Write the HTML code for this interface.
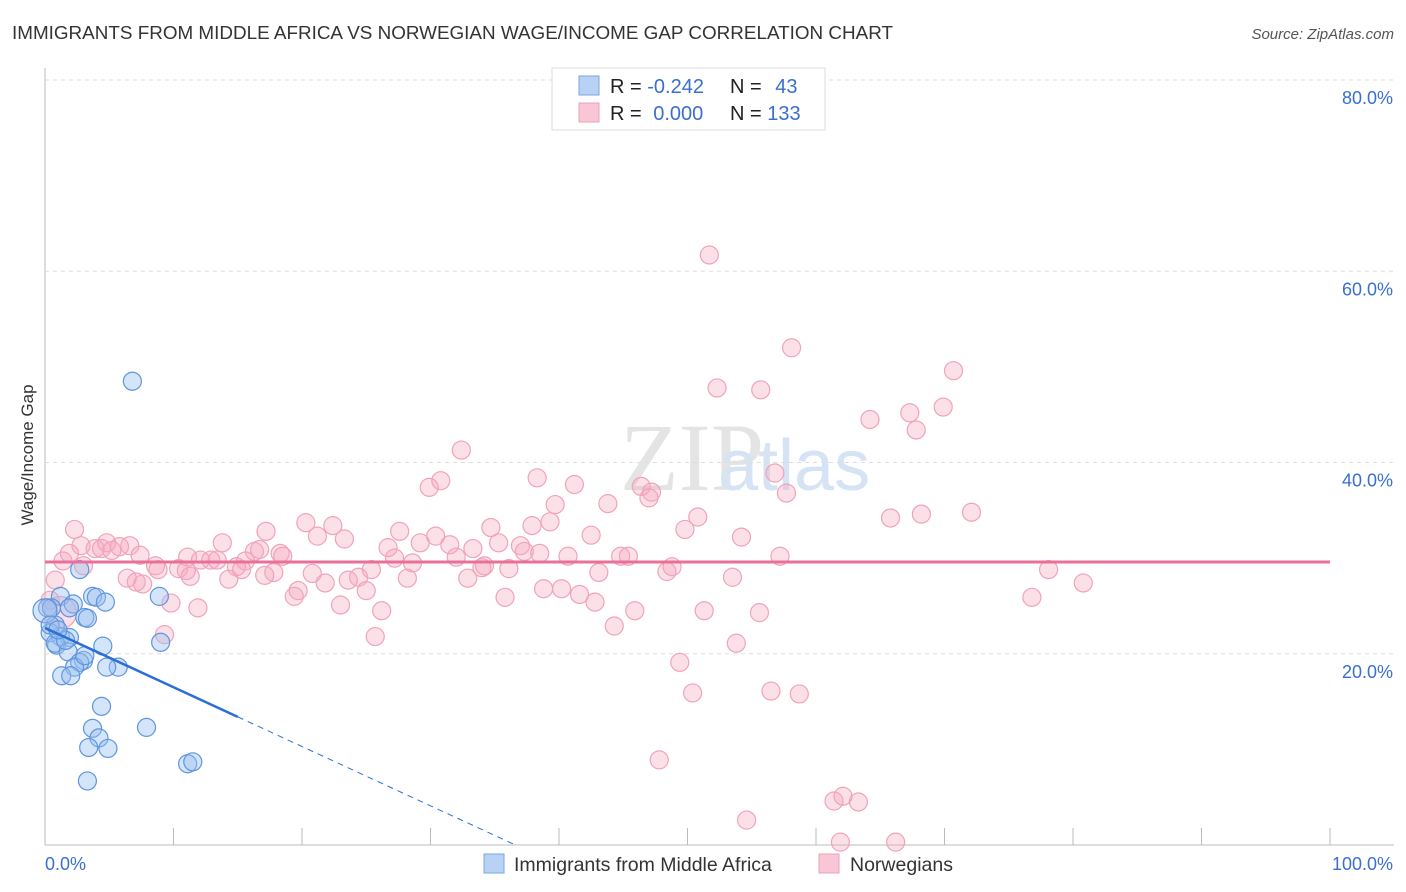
<!DOCTYPE html>
<html><head><meta charset="utf-8">
<style>
body{margin:0;background:#fff;font-family:"Liberation Sans",sans-serif;}
svg{display:block}
</style></head>
<body>
<svg id="chart" width="1406" height="892">
<text x="12" y="39" font-size="18.5" fill="#333" textLength="881" lengthAdjust="spacingAndGlyphs">IMMIGRANTS FROM MIDDLE AFRICA VS NORWEGIAN WAGE/INCOME GAP CORRELATION CHART</text>
<text x="1394" y="39" font-size="15" fill="#555" font-style="italic" text-anchor="end">Source: ZipAtlas.com</text>
<text x="620" y="490" font-size="96" fill="#e4e4e4" font-family="Liberation Serif">ZIP</text>
<text x="718" y="490" font-size="72" fill="#d5e3f5">atlas</text>
<text transform="translate(33,455) rotate(-90)" font-size="17" fill="#333" text-anchor="middle">Wage/Income Gap</text>
<g id="grid"></g><g id="pts"></g><g id="trend"></g>
<g>
<rect x="552" y="68" width="273" height="62" fill="#fff" stroke="#ddd"/>
<rect x="579" y="76" width="20" height="19" fill="#b8d2f5" stroke="#7aa6e0"/>
<rect x="579" y="103" width="20" height="19" fill="#f8c6d4" stroke="#eea0b8"/>
<text x="610" y="93" font-size="20" fill="#222">R = <tspan fill="#3a6fd0">-0.242</tspan></text>
<text x="730" y="93" font-size="20" fill="#222">N = <tspan fill="#3a6fd0" dx="8">43</tspan></text>
<text x="610" y="120" font-size="20" fill="#222">R = <tspan fill="#3a6fd0" dx="6">0.000</tspan></text>
<text x="730" y="120" font-size="20" fill="#222">N = <tspan fill="#3a6fd0">133</tspan></text>
</g>
<g>
<rect x="484" y="854" width="20" height="19" fill="#b8d2f5" stroke="#7aa6e0"/>
<text x="514" y="871" font-size="19.5" fill="#333">Immigrants from Middle Africa</text>
<rect x="819" y="854" width="20" height="19" fill="#f8c6d4" stroke="#eea0b8"/>
<text x="850" y="871" font-size="19.5" fill="#333">Norwegians</text>
</g>
</svg>
<script>
const yTicks=[20,40,60,80];
const yTickLabels=["20.0%","40.0%","60.0%","80.0%"];
const xTickLabels=["0.0%","100.0%"];
const blueX=[6.8,2.7,1.2,2.2,3.7,4.0,4.7,8.9,3.1,3.3,0.2,0.5,0.8,0.4,1.2,1.9,0.9,0.8,4.5,9.0,1.8,3.0,2.7,2.3,5.7,4.8,1.3,2.0,4.4,3.7,7.9,4.2,3.4,4.9,11.1,11.5,3.3,0.0,0.4,1.6,1.9,1.0,3.1];
const blueY=[48.5,28.8,26.0,25.2,26.0,25.9,25.4,26.0,23.8,23.7,24.8,24.8,23.0,22.2,21.8,21.7,20.9,21.1,20.8,21.2,20.2,19.3,19.1,18.6,18.6,18.6,17.7,17.7,14.5,12.2,12.3,11.2,10.2,10.1,8.5,8.7,6.7,24.5,23.0,21.4,24.8,22.5,19.8];
const pinkX=[51.7,58.1,70.7,52.3,55.7,67.3,69.9,64.2,67.8,32.4,56.8,38.3,30.8,29.9,41.2,46.4,47.2,57.7,43.8,39.7,47.0,65.8,68.2,72.1,50.8,39.3,20.3,34.7,37.9,49.8,22.4,17.2,2.3,21.2,23.3,27.6,30.4,29.2,35.3,54.2,42.5,2.8,4.8,6.6,5.8,3.9,1.4,1.9,4.4,7.4,13.8,16.3,16.7,18.3,18.5,11.1,12.9,13.4,14.9,15.6,8.6,8.8,10.4,11.0,14.3,11.3,15.3,26.7,27.2,31.5,33.3,37.0,37.3,40.7,44.8,45.4,57.2,28.6,32.0,34.0,34.2,36.1,38.5,48.4,48.8,43.1,25.4,20.8,17.8,24.4,23.6,28.2,32.9,53.5,78.1,80.8,6.4,7.6,7.1,19.7,19.4,21.8,25.0,38.8,40.2,41.6,42.8,76.8,35.8,9.8,11.9,23.0,26.2,51.3,55.6,45.9,44.3,25.7,9.3,53.8,49.4,50.4,56.5,58.7,47.8,61.4,62.1,63.3,54.6,61.9,66.2,0.8,0.4,1.2,3.0,5.2,12.1,17.1];
const pinkY=[61.7,52.0,49.6,47.8,47.6,45.2,45.8,44.5,43.4,41.3,38.9,38.4,38.1,37.4,37.7,37.5,36.9,36.8,35.7,35.6,36.3,34.2,34.6,34.8,34.3,33.8,33.7,33.2,33.4,33.0,33.4,32.8,33.0,32.3,32.0,32.8,32.3,31.6,31.6,32.2,32.4,31.3,31.6,31.3,31.2,31.0,29.7,30.5,31.0,30.3,31.6,30.7,30.9,30.5,30.2,30.1,29.8,29.8,29.1,29.7,29.2,28.8,28.9,28.7,27.8,28.1,28.8,31.1,30.0,31.4,31.0,31.3,30.7,30.2,30.2,30.2,30.2,29.5,30.1,29.0,29.2,28.9,30.5,28.6,29.1,28.5,28.8,28.4,28.5,28.0,27.7,27.9,27.9,28.0,28.8,27.4,27.9,27.3,27.5,26.6,26.0,27.4,26.6,26.8,26.8,26.2,25.4,25.9,25.9,25.3,24.8,25.1,24.5,24.5,24.3,24.5,22.9,21.8,22.0,21.1,19.1,15.9,16.1,15.8,8.9,4.6,5.1,4.5,2.6,0.3,0.3,27.7,25.6,24.3,29.2,30.8,29.8,28.2];
const blueTrend=[22.7,-0.62];
const pinkTrend=29.6;
const NS="http://www.w3.org/2000/svg";
const X0=45,X1=1330,Y0=845,Y80=80;
function sx(v){return X0+(X1-X0)*v/100;}
function sy(v){return Y0-(Y0-Y80)*v/80;}
function mk(tag,attrs,parent){const e=document.createElementNS(NS,tag);for(const k in attrs)e.setAttribute(k,attrs[k]);parent.appendChild(e);return e;}
const grid=document.getElementById('grid');
const ax=mk('line',{x1:X0,y1:68,x2:X0,y2:Y0,stroke:'#bbb'},grid);


const bx=mk('line',{x1:X0,y1:Y0,x2:1394,y2:Y0,stroke:'#bbb'},grid);


yTicks.forEach((t,i)=>{
 const g=mk('line',{x1:X0,y1:sy(t),x2:1394,y2:sy(t),stroke:'#ddd','stroke-dasharray':'4,4'},grid);
 
 
 const l=mk('text',{x:1393,y:sy(t)+24,'font-size':18,fill:'#3a6fd0','text-anchor':'end'},grid);
 l.textContent=yTickLabels[i];
 
 
});
for(let i=0;i<=10;i++){
 const t=mk('line',{x1:sx(i*10),y1:828,x2:sx(i*10),y2:Y0,stroke:'#bbb'},grid);
 
 
}
const xl0=mk('text',{x:45,y:870,'font-size':18,fill:'#3a6fd0'},grid);
xl0.textContent=xTickLabels[0];


const xl1=mk('text',{x:1393,y:870,'font-size':18,fill:'#3a6fd0','text-anchor':'end'},grid);
xl1.textContent=xTickLabels[1];


const pts=document.getElementById('pts');
pinkX.forEach((x,i)=>{
 const c=mk('circle',{cx:sx(x),cy:sy(pinkY[i]),r:i==133?16:9,fill:'rgba(245,165,190,0.35)',stroke:'#f0a3bb','stroke-width':1.2},pts);
 
 
});
blueX.forEach((x,i)=>{
 const c=mk('circle',{cx:sx(x),cy:sy(blueY[i]),r:i==37?12:9,fill:'rgba(150,190,240,0.4)',stroke:'#5f95df','stroke-width':1.2},pts);
 
 
});
const tr=document.getElementById('trend');
const pl=mk('line',{x1:sx(0),y1:sy(pinkTrend),x2:sx(100),y2:sy(pinkTrend),stroke:'#e8709a','stroke-width':3},tr);


const bEnd=15,bZero=-blueTrend[0]/blueTrend[1];
const bl=mk('line',{x1:sx(0),y1:sy(blueTrend[0]),x2:sx(bEnd),y2:sy(blueTrend[0]+blueTrend[1]*bEnd),stroke:'#2a6fd6','stroke-width':2.5},tr);


const bd=mk('line',{x1:sx(bEnd),y1:sy(blueTrend[0]+blueTrend[1]*bEnd),x2:sx(bZero),y2:sy(0),stroke:'#2a6fd6','stroke-width':1,'stroke-dasharray':'6,5'},tr);


</script>
</body></html>
